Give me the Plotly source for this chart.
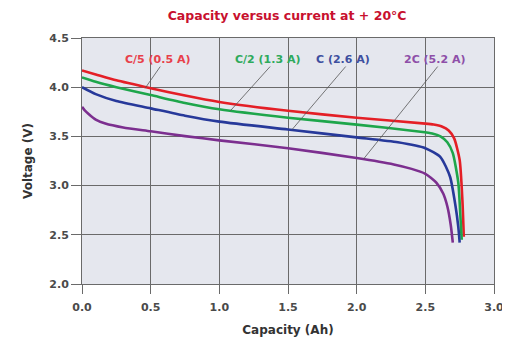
import plotly.graph_objects as go

# ---- data ----
red_x = [0, 0.1, 0.25, 0.5, 0.75, 1.0, 1.5, 2.0, 2.5, 2.56, 2.62, 2.67, 2.71, 2.75, 2.77, 2.78]
red_v = [4.17, 4.13, 4.07, 3.99, 3.915, 3.85, 3.76, 3.69, 3.63, 3.62, 3.60, 3.56, 3.48, 3.26, 2.85, 2.48]

green_x = [0, 0.1, 0.25, 0.5, 0.75, 1.0, 1.5, 2.0, 2.45, 2.55, 2.61, 2.66, 2.70, 2.74, 2.755, 2.765]
green_v = [4.10, 4.055, 4.00, 3.92, 3.84, 3.775, 3.69, 3.62, 3.55, 3.53, 3.50, 3.44, 3.33, 3.03, 2.70, 2.45]

blue_x = [0, 0.1, 0.25, 0.5, 0.75, 1.0, 1.5, 2.0, 2.3, 2.5, 2.61, 2.68, 2.72, 2.74, 2.75]
blue_v = [4.00, 3.93, 3.86, 3.785, 3.71, 3.65, 3.57, 3.49, 3.44, 3.38, 3.29, 3.09, 2.79, 2.58, 2.42]

purple_x = [0, 0.02, 0.05, 0.1, 0.17, 0.3, 0.5, 0.75, 1.0, 1.5, 2.0, 2.27, 2.4, 2.5, 2.54, 2.58, 2.63, 2.66, 2.685, 2.70]
purple_v = [3.80, 3.765, 3.725, 3.67, 3.63, 3.59, 3.552, 3.503, 3.46, 3.38, 3.28, 3.215, 3.17, 3.12, 3.08, 3.03, 2.92, 2.79, 2.60, 2.42]

series_names = ["C/5 (0.5 A)", "C/2 (1.3 A)", "C (2.6 A)", "2C (5.2 A)"]
x_ticks = [0.0, 0.5, 1.0, 1.5, 2.0, 2.5, 3.0]
y_ticks = [2.0, 2.5, 3.0, 3.5, 4.0, 4.5]

# label positions (label x, label y, curve x, curve y)
label_pos = [
    (0.55, 4.28, 0.46, 3.99),
    (1.35, 4.28, 1.08, 3.76),
    (1.90, 4.28, 1.53, 3.57),
    (2.57, 4.28, 2.05, 3.27),
]

line_colors = ["#e41f26", "#1ea64b", "#27399a", "#7c2f8f"]
text_colors = ["#e8404a", "#2eaa5c", "#3d4f9f", "#8e4fa8"]

fig = go.Figure()
for xs, vs, name, c in zip([red_x, green_x, blue_x, purple_x],
                           [red_v, green_v, blue_v, purple_v],
                           series_names, line_colors):
    fig.add_trace(go.Scatter(x=xs, y=vs, mode="lines", name=name,
                             line=dict(color=c, width=2.6, shape="spline", smoothing=0.6)))

for (lx, ly, cx, cy), name, tc in zip(label_pos, series_names, text_colors):
    fig.add_annotation(x=lx, y=ly, xref="x", yref="y", text="<b>" + name + "</b>",
                       showarrow=False, font=dict(family="DejaVu Sans", size=11, color=tc))
    fig.add_shape(type="line", xref="x", yref="y", x0=lx + 0.02, y0=ly - 0.07, x1=cx, y1=cy,
                  line=dict(color="#555555", width=0.8))

grid = "#6a6a6a"
fig.update_layout(
    width=502, height=329,
    margin=dict(l=74, r=16, t=30, b=53, autoexpand=False),
    paper_bgcolor="white", plot_bgcolor="#e5e7ee",
    showlegend=False,
    title=dict(text="<b>Capacity versus current at + 20°C</b>", x=0.556, xanchor="center",
               y=0.978, yanchor="middle", automargin=False,
               font=dict(family="DejaVu Sans", size=12.5, color="#c8102e")),
    xaxis=dict(range=[0, 3.0], tickvals=x_ticks, ticktext=[f"<b>{v:.1f}</b>" for v in x_ticks],
               automargin=False,
               showgrid=True, gridcolor=grid, gridwidth=1, zeroline=False,
               showline=True, linecolor=grid, linewidth=1, mirror=True,
               ticks="outside", ticklen=9, tickcolor=grid, ticklabelstandoff=4,
               tickfont=dict(family="DejaVu Sans", size=11, color="#4a4a4a"),
               title=dict(text="<b>Capacity (Ah)</b>", standoff=12,
                          font=dict(family="DejaVu Sans", size=12, color="#333333"))),
    yaxis=dict(range=[2.0, 4.5], tickvals=y_ticks, ticktext=[f"<b>{v:.1f}</b>" for v in y_ticks],
               automargin=False,
               showgrid=True, gridcolor=grid, gridwidth=1, zeroline=False,
               showline=True, linecolor=grid, linewidth=1, mirror=True,
               ticks="outside", ticklen=10, tickcolor=grid,
               tickfont=dict(family="DejaVu Sans", size=11, color="#4a4a4a"),
               title=dict(text="<b>Voltage (V)</b>", standoff=14,
                          font=dict(family="DejaVu Sans", size=12, color="#333333"))),
)

fig.write_html("out.html")
